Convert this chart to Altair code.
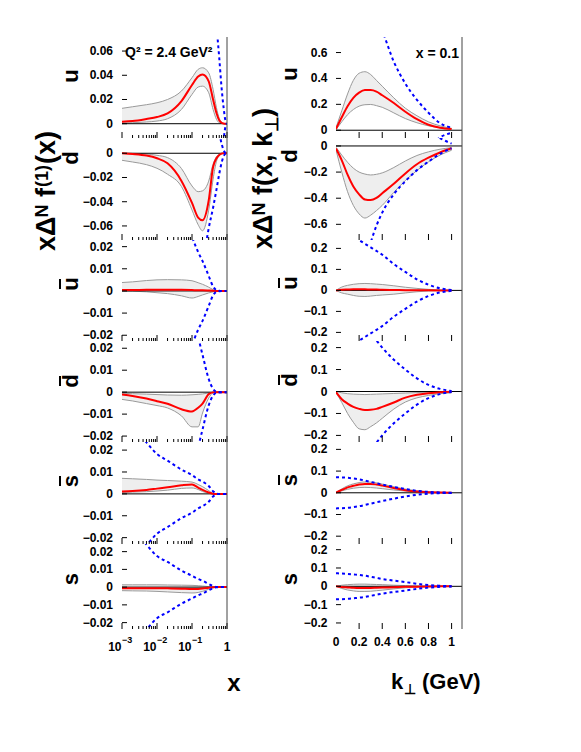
import altair as alt
import pandas as pd

FONT = "Liberation Sans"
RED = "#ff0000"
BLUE = "#0000ff"
BAND = "#eeeeee"
EDGE = "#9a9a9a"

# x grids
X_L = [0.001, 0.002, 0.005, 0.01, 0.02, 0.05, 0.1, 0.15, 0.2, 0.3, 0.4, 0.5, 0.6, 0.7, 0.8, 0.9, 1.0]
K_R = [0.0, 0.05, 0.1, 0.15, 0.2, 0.25, 0.3, 0.35, 0.4, 0.5, 0.6, 0.7, 0.8, 0.9, 1.0]

# ---------------- left column : x Delta^N f^(1)(x) ----------------
uL_lo = [0.0006, 0.0008, 0.0014, 0.0022, 0.0041, 0.0118, 0.0242, 0.0303, 0.031, 0.0256, 0.0118, 0.0036, 0.0008, 0.0003, 0.0001, 0, 0]
uL_red = [0.00165, 0.0022, 0.0039, 0.0055, 0.0085, 0.0187, 0.032, 0.039, 0.0407, 0.035, 0.020, 0.0088, 0.0028, 0.0008, 0.0002, 0, 0]
uL_hi = [0.0127, 0.014, 0.0157, 0.0173, 0.020, 0.027, 0.038, 0.0449, 0.0462, 0.042, 0.0284, 0.0132, 0.0044, 0.0011, 0.0003, 0, 0]
uL_B = [2.0, 1.6, 1.2, 1.0, 0.8, 0.6, 0.45, 0.37, 0.3, 0.2, 0.125, 0.082, 0.0545, 0.0297, 0.0132, 0.0028, 0]

dL_lo = [-0.0058, -0.0072, -0.0094, -0.0124, -0.0173, -0.0275, -0.0468, -0.059, -0.064, -0.047, -0.0215, -0.0066, -0.002, -0.0006, 0, 0, 0]
dL_red = [0, -0.0006, -0.0019, -0.0041, -0.0083, -0.0228, -0.041, -0.0531, -0.0553, -0.039, -0.0113, -0.0041, -0.0014, -0.0003, 0, 0, 0]
dL_hi = [0, -0.0001, -0.0006, -0.0017, -0.0036, -0.0126, -0.027, -0.0317, -0.031, -0.023, -0.009, -0.0028, -0.0008, -0.0001, 0, 0, 0]
dL_B = [2.0, 1.6, 1.2, 1.0, 0.8, 0.4, 0.2, 0.13, 0.095, 0.062, 0.045, 0.03, 0.017, 0.008, 0.0025, 0.0004, 0]

ubL_lo = [0, -0.0001, -0.0004, -0.0008, -0.0012, -0.0022, -0.0032, -0.0025, -0.0018, -0.0009, -0.0004, 0, 0, 0, 0, 0, 0]
ubL_red = [0.0004, 0.0004, 0.0005, 0.0005, 0.0005, 0.0005, 0.0004, 0.0003, 0.0003, 0.0002, 0.0001, 0, 0, 0, 0, 0, 0]
ubL_hi = [0.0038, 0.0041, 0.0047, 0.005, 0.0051, 0.005, 0.0046, 0.0037, 0.003, 0.0017, 0.0006, 0.0001, 0, 0, 0, 0, 0]
ubL_B = [0.3, 0.2, 0.12, 0.08, 0.06, 0.04, 0.0245, 0.0175, 0.0135, 0.0068, 0.002, 0.0004, 0.0001, 0, 0, 0, 0]

dbL_lo = [-0.0033, -0.004, -0.0052, -0.0061, -0.0072, -0.0108, -0.0158, -0.0158, -0.0095, -0.0027, -0.0003, 0, 0, 0, 0, 0, 0]
dbL_red = [-0.0011, -0.0017, -0.0029, -0.0041, -0.0053, -0.0078, -0.0088, -0.0071, -0.0052, -0.0009, -0.0001, 0, 0, 0, 0, 0, 0]
dbL_hi = [-0.0005, -0.0007, -0.0009, -0.0011, -0.0013, -0.0014, -0.0012, -0.001, -0.0008, -0.0004, -0.0001, 0, 0, 0, 0, 0, 0]
dbL_B = [0.3, 0.2, 0.12, 0.09, 0.07, 0.05, 0.035, 0.025, 0.017, 0.006, 0.0015, 0.0002, 0, 0, 0, 0, 0]

sbL_lo = [0.0006, 0.0008, 0.001, 0.0013, 0.0017, 0.0025, 0.0027, 0.002, 0.0011, 0.0003, 0, 0, 0, 0, 0, 0, 0]
sbL_red = [0.0011, 0.0013, 0.0018, 0.0024, 0.003, 0.0039, 0.0043, 0.0029, 0.0018, 0.0006, 0.0001, 0, 0, 0, 0, 0, 0]
sbL_hi = [0.0071, 0.0069, 0.0066, 0.0063, 0.0061, 0.0058, 0.0054, 0.0043, 0.0033, 0.0015, 0.0002, 0, 0, 0, 0, 0, 0]
sbL_B = [0.04, 0.031, 0.0235, 0.0182, 0.0152, 0.0111, 0.0086, 0.0066, 0.0056, 0.0036, 0.0012, 0.0002, 0, 0, 0, 0, 0]

sL_lo = [-0.002, -0.0021, -0.0022, -0.0024, -0.0027, -0.0031, -0.0033, -0.003, -0.0024, -0.0012, -0.0004, 0, 0, 0, 0, 0, 0]
sL_red = [-0.0006, -0.0006, -0.0006, -0.0006, -0.0007, -0.0009, -0.0011, -0.001, -0.0008, -0.0004, -0.0001, 0, 0, 0, 0, 0, 0]
sL_hi = [0.0013, 0.0013, 0.0013, 0.0013, 0.0012, 0.0011, 0.001, 0.0008, 0.0006, 0.0003, 0.0001, 0, 0, 0, 0, 0, 0]
sL_B = [0.045, 0.034, 0.024, 0.0175, 0.0142, 0.0093, 0.0064, 0.0046, 0.0036, 0.0018, 0.0006, 0.0001, 0, 0, 0, 0, 0]

# ---------------- right column : x Delta^N f(x, k_perp) at x = 0.1 ----------------
uR_lo = [0.005, 0.065, 0.12, 0.16, 0.186, 0.197, 0.199, 0.19, 0.177, 0.134, 0.09, 0.058, 0.034, 0.02, 0.01]
uR_red = [0.01, 0.1, 0.185, 0.25, 0.29, 0.31, 0.31, 0.298, 0.27, 0.21, 0.143, 0.085, 0.042, 0.02, 0.01]
uR_hi = [0.02, 0.15, 0.28, 0.385, 0.44, 0.452, 0.43, 0.385, 0.34, 0.25, 0.17, 0.112, 0.065, 0.034, 0.015]
uR_B = [2.5, 2.3, 2.0, 1.7, 1.45, 1.2, 1.0, 0.88, 0.77, 0.53, 0.36, 0.235, 0.135, 0.055, 0.02]

dR_lo = [-0.03, -0.2, -0.35, -0.455, -0.52, -0.552, -0.53, -0.495, -0.455, -0.355, -0.265, -0.188, -0.122, -0.07, -0.033]
dR_red = [-0.02, -0.11, -0.22, -0.31, -0.37, -0.41, -0.414, -0.398, -0.362, -0.29, -0.21, -0.14, -0.09, -0.05, -0.018]
dR_hi = [-0.01, -0.07, -0.125, -0.17, -0.2, -0.215, -0.222, -0.217, -0.206, -0.165, -0.115, -0.073, -0.045, -0.025, -0.013]
dR_B = [1.8, 1.6, 1.42, 1.25, 1.08, 0.9, 0.74, 0.61, 0.51, 0.37, 0.27, 0.185, 0.12, 0.06, 0.018]

ubR_lo = [0, -0.012, -0.018, -0.024, -0.028, -0.029, -0.027, -0.024, -0.022, -0.018, -0.012, -0.0065, -0.003, -0.001, 0]
ubR_red = [0, 0.003, 0.004, 0.005, 0.005, 0.005, 0.004, 0.004, 0.003, 0.002, 0.001, 0.0005, 0.0002, 0, 0]
ubR_hi = [0, 0.016, 0.024, 0.029, 0.032, 0.033, 0.032, 0.03, 0.028, 0.022, 0.015, 0.0095, 0.005, 0.0016, 0]
ubR_B = [0.32, 0.3, 0.28, 0.26, 0.24, 0.222, 0.205, 0.188, 0.17, 0.125, 0.088, 0.053, 0.027, 0.01, 0.002]

dbR_lo = [-0.005, -0.05, -0.1, -0.14, -0.17, -0.174, -0.16, -0.143, -0.122, -0.08, -0.048, -0.029, -0.018, -0.01, -0.006]
dbR_red = [-0.003, -0.035, -0.055, -0.07, -0.079, -0.084, -0.083, -0.079, -0.07, -0.05, -0.028, -0.015, -0.008, -0.003, -0.001]
dbR_hi = [0, -0.006, -0.01, -0.012, -0.013, -0.014, -0.013, -0.012, -0.011, -0.009, -0.007, -0.005, -0.003, -0.002, -0.001]
dbR_B = [0.5, 0.47, 0.44, 0.4, 0.36, 0.31, 0.27, 0.233, 0.2, 0.145, 0.1, 0.06, 0.03, 0.012, 0.002]

sbR_lo = [0.001, 0.009, 0.016, 0.021, 0.024, 0.025, 0.024, 0.022, 0.019, 0.013, 0.008, 0.004, 0.002, 0.001, 0]
sbR_red = [0.001, 0.013, 0.025, 0.032, 0.038, 0.041, 0.041, 0.038, 0.033, 0.022, 0.012, 0.006, 0.003, 0.001, 0]
sbR_hi = [0.002, 0.018, 0.032, 0.041, 0.047, 0.05, 0.049, 0.046, 0.04, 0.028, 0.017, 0.009, 0.004, 0.002, 0]
sbR_B = [0.072, 0.071, 0.069, 0.066, 0.062, 0.056, 0.05, 0.044, 0.038, 0.027, 0.017, 0.009, 0.004, 0.0015, 0.0005]

sR_lo = [0, -0.012, -0.02, -0.025, -0.028, -0.028, -0.027, -0.024, -0.021, -0.014, -0.008, -0.004, -0.002, -0.001, 0]
sR_red = [0, -0.004, -0.006, -0.008, -0.009, -0.009, -0.009, -0.008, -0.007, -0.005, -0.003, -0.002, -0.001, 0, 0]
sR_hi = [0, 0.006, 0.009, 0.011, 0.012, 0.012, 0.011, 0.01, 0.009, 0.006, 0.004, 0.002, 0.001, 0, 0]
sR_B = [0.071, 0.07, 0.068, 0.065, 0.062, 0.058, 0.052, 0.046, 0.04, 0.031, 0.023, 0.014, 0.007, 0.003, 0.0005]

# panel names, y ranges, tick values
NAMES = ["u", "d", "u", "d", "s", "s"]
OVERLINE = [False, False, True, True, True, False]
HEIGHTS = [101, 102, 101, 101, 102, 85]
DOM_L = [[-0.0118, 0.0716], [-0.0716, 0.0126], [-0.0226, 0.023], [-0.0227, 0.0233], [-0.0229, 0.0237], [-0.0236, 0.0243]]
DOM_R = [[-0.06, 0.72], [-0.72, 0.061], [-0.241, 0.24], [-0.23, 0.23], [-0.236, 0.234], [-0.233, 0.231]]
YV_L = [[0, 0.02, 0.04, 0.06], [0, -0.02, -0.04, -0.06]] + [[-0.02, -0.01, 0, 0.01, 0.02]] * 4
YV_R = [[0, 0.2, 0.4, 0.6], [0, -0.2, -0.4, -0.6]] + [[-0.2, -0.1, 0, 0.1, 0.2]] * 4
TY_L = [39, 20, 44, 40, 39, 35]
TY_R = [37, 18, 43, 39, 38, 35]

LEFT = [(uL_lo, uL_red, uL_hi, uL_B), (dL_lo, dL_red, dL_hi, dL_B), (ubL_lo, ubL_red, ubL_hi, ubL_B),
        (dbL_lo, dbL_red, dbL_hi, dbL_B), (sbL_lo, sbL_red, sbL_hi, sbL_B), (sL_lo, sL_red, sL_hi, sL_B)]
RIGHT = [(uR_lo, uR_red, uR_hi, uR_B), (dR_lo, dR_red, dR_hi, dR_B), (ubR_lo, ubR_red, ubR_hi, ubR_B),
         (dbR_lo, dbR_red, dbR_hi, dbR_B), (sbR_lo, sbR_red, sbR_hi, sbR_B), (sR_lo, sR_red, sR_hi, sR_B)]

XMAJ_L = [0.001, 0.01, 0.1, 1.0]
XMIN_L = [m * 10.0 ** e for e in (-3, -2, -1) for m in range(2, 10)]
XMAJ_R = [0.2, 0.4, 0.6, 0.8, 1.0]
XLAB_L = ["\u22123", "\u22122", "\u22121"]
XLAB_R = [0, 0.2, 0.4, 0.6, 0.8, 1.0]

# rotated y-titles, built from pieces: (text, font size, baseline x, start y)  (panel-relative px)
YT_LEFT = [("x\u0394", 27, -67, 214), ("N", 18, -74, 180.5), ("f", 27, -67, 160), ("(1)", 18, -74, 150), ("(x)", 27, -67, 127)]
YT_RIGHT = [("x\u0394", 27, -64, 212), ("N", 18, -71, 178.5), ("f(x, k", 27, -64, 158), ("\u22a5", 18, -58, 95), (")", 27, -64, 80)]

W_L, W_R = 105, 126
ONE = pd.DataFrame({"z": [0]})
TXT = dict(font=FONT, fontWeight="bold", color="black")


def rot_pieces(pieces):
    out = []
    for t, fs, bx, y0 in pieces:
        out.append(alt.Chart(ONE).mark_text(align="left", baseline="alphabetic", angle=270, fontSize=fs, **TXT).encode(
            x=alt.value(bx), y=alt.value(y0), text=alt.value(t)))
    return out


def panel(i, col):
    left = col == 0
    xs = X_L if left else K_R
    lo, red, hi, B = (LEFT if left else RIGHT)[i]
    dom = (DOM_L if left else DOM_R)[i]
    yv = (YV_L if left else YV_R)[i]
    ty = (TY_L if left else TY_R)[i]
    w = W_L if left else W_R
    h = HEIGHTS[i]
    bottom = i == 5
    xscale = alt.Scale(type="log", domain=[0.001, 1.0], nice=False) if left else alt.Scale(domain=[0, 1.09], nice=False, zero=False)
    ysc = alt.Scale(domain=dom, nice=False, zero=False)
    tx = -44 if left else -39
    yax = alt.Axis(ticks=False, labels=False, grid=False, domain=True, domainColor="black", title=None)
    xax = alt.Axis(ticks=False, labels=False, grid=False, domain=True, domainColor="black", title=None)

    df = pd.DataFrame({"x": xs, "lo": lo, "red": red, "hi": hi, "bp": B})
    base = alt.Chart(df)
    layers = []
    layers.append(base.mark_area(color=BAND, interpolate="monotone", clip=True).encode(
        x=alt.X("x:Q", scale=xscale, axis=xax), y=alt.Y("lo:Q", scale=ysc, axis=yax), y2="hi:Q"))

    def line(src, field, **kw):
        return src.mark_line(interpolate="monotone", clip=True, **kw).encode(
            x=alt.X("x:Q", axis=None), y=alt.Y(field + ":Q", axis=None))

    layers.append(line(base, "lo", color=EDGE, strokeWidth=1))
    layers.append(line(base, "hi", color=EDGE, strokeWidth=1))
    layers.append(alt.Chart(ONE).mark_rule(color="black", strokeWidth=1).encode(y=alt.Y("z:Q", axis=None)))
    layers.append(line(base, "red", color=RED, strokeWidth=2))
    layers.append(line(base, "bp", color=BLUE, strokeWidth=2, strokeDash=[3, 3]))
    layers.append(line(base.transform_calculate(bm="-datum.bp"), "bm", color=BLUE, strokeWidth=2, strokeDash=[3, 3]))

    # y tick marks (inward) and tick labels
    ytab = alt.Chart(pd.DataFrame({"v": yv})).transform_calculate(
        t="format(datum.v, '%s')" % (".2~f" if left else ".1~f"))
    layers.append(ytab.mark_rule(color="black").encode(
        y=alt.Y("v:Q", axis=None), x=alt.value(0), x2=alt.value(5)))
    layers.append(ytab.mark_text(align="right", baseline="middle", fontSize=12, **TXT).encode(
        y=alt.Y("v:Q", axis=None), x=alt.value(-9 if left else -8.5), text="t:N"))

    # x tick marks (inward)
    xmaj = XMAJ_L if left else XMAJ_R
    layers.append(alt.Chart(pd.DataFrame({"v": xmaj})).mark_rule(color="black").encode(
        x=alt.X("v:Q", axis=None), y=alt.value(h), y2=alt.value(h - 6)))
    if left:
        layers.append(alt.Chart(pd.DataFrame({"v": XMIN_L})).mark_rule(color="black").encode(
            x=alt.X("v:Q", axis=None), y=alt.value(h), y2=alt.value(h - 3)))
    # right frame edge
    layers.append(alt.Chart(ONE).mark_rule(color="#444444").encode(
        x=alt.value(w), y=alt.value(0), y2=alt.value(h)))

    # panel title (rotated) with optional overline
    layers.append(alt.Chart(ONE).mark_text(align="center", baseline="alphabetic", angle=270, fontSize=22, **TXT).encode(
        x=alt.value(tx), y=alt.value(ty), text=alt.value(NAMES[i])))
    if OVERLINE[i]:
        layers.append(alt.Chart(ONE).mark_rule(color="black", strokeWidth=2).encode(
            x=alt.value(tx - 18), y=alt.value(ty - 5), y2=alt.value(ty + 5)))

    if i == 0 and left:
        layers.append(alt.Chart(ONE).mark_text(align="left", baseline="middle", fontSize=14, **TXT).encode(
            x=alt.value(3), y=alt.value(16), text=alt.value("Q\u00b2 = 2.4 GeV\u00b2")))
        layers += rot_pieces(YT_LEFT)
    if i == 0 and not left:
        layers.append(alt.Chart(ONE).mark_text(align="right", baseline="middle", fontSize=14, **TXT).encode(
            x=alt.value(123), y=alt.value(17), text=alt.value("x = 0.1")))
        layers += rot_pieces(YT_RIGHT)
    if bottom and left:
        lab = pd.DataFrame({"v": XMAJ_L[:3], "e": XLAB_L})
        layers.append(alt.Chart(lab).mark_text(align="right", baseline="alphabetic", fontSize=12, dx=-0.5, **TXT).encode(
            x=alt.X("v:Q", axis=None), y=alt.value(h + 22), text=alt.value("10")))
        layers.append(alt.Chart(lab).mark_text(align="left", baseline="alphabetic", fontSize=9, **TXT).encode(
            x=alt.X("v:Q", axis=None), y=alt.value(h + 14), text="e:N"))
        layers.append(alt.Chart(pd.DataFrame({"v": [1.0]})).mark_text(align="center", baseline="alphabetic", fontSize=12, **TXT).encode(
            x=alt.X("v:Q", axis=None), y=alt.value(h + 22), text=alt.value("1")))
        layers.append(alt.Chart(ONE).mark_text(align="center", baseline="alphabetic", fontSize=24, **TXT).encode(
            x=alt.value(112), y=alt.value(147), text=alt.value("x")))
    if bottom and not left:
        lab = alt.Chart(pd.DataFrame({"v": XLAB_R})).transform_calculate(t="format(datum.v, '~g')")
        layers.append(lab.mark_text(align="center", baseline="alphabetic", fontSize=12, **TXT).encode(
            x=alt.X("v:Q", axis=None), y=alt.value(h + 17), text="t:N"))
        layers.append(alt.Chart(ONE).mark_text(align="left", baseline="alphabetic", fontSize=22, **TXT).encode(
            x=alt.value(55), y=alt.value(145), text=alt.value("k")))
        layers.append(alt.Chart(ONE).mark_text(align="left", baseline="alphabetic", fontSize=14, **TXT).encode(
            x=alt.value(68), y=alt.value(150), text=alt.value("\u22a5")))
        layers.append(alt.Chart(ONE).mark_text(align="left", baseline="alphabetic", fontSize=22, **TXT).encode(
            x=alt.value(86), y=alt.value(145), text=alt.value("(GeV)")))
    return alt.layer(*layers).properties(width=w, height=h)


cells = []
for i in range(6):
    cells.append(panel(i, 0))
    cells.append(panel(i, 1))

chart = alt.concat(*cells, columns=2, spacing={"row": 0, "column": 109}, bounds="flush", align="each").properties(
    padding={"left": 25, "top": 28, "right": 5, "bottom": 5}, background="white"
).configure_view(stroke=None)

chart.save("out.html", embed_options={"renderer": "svg", "actions": False})
